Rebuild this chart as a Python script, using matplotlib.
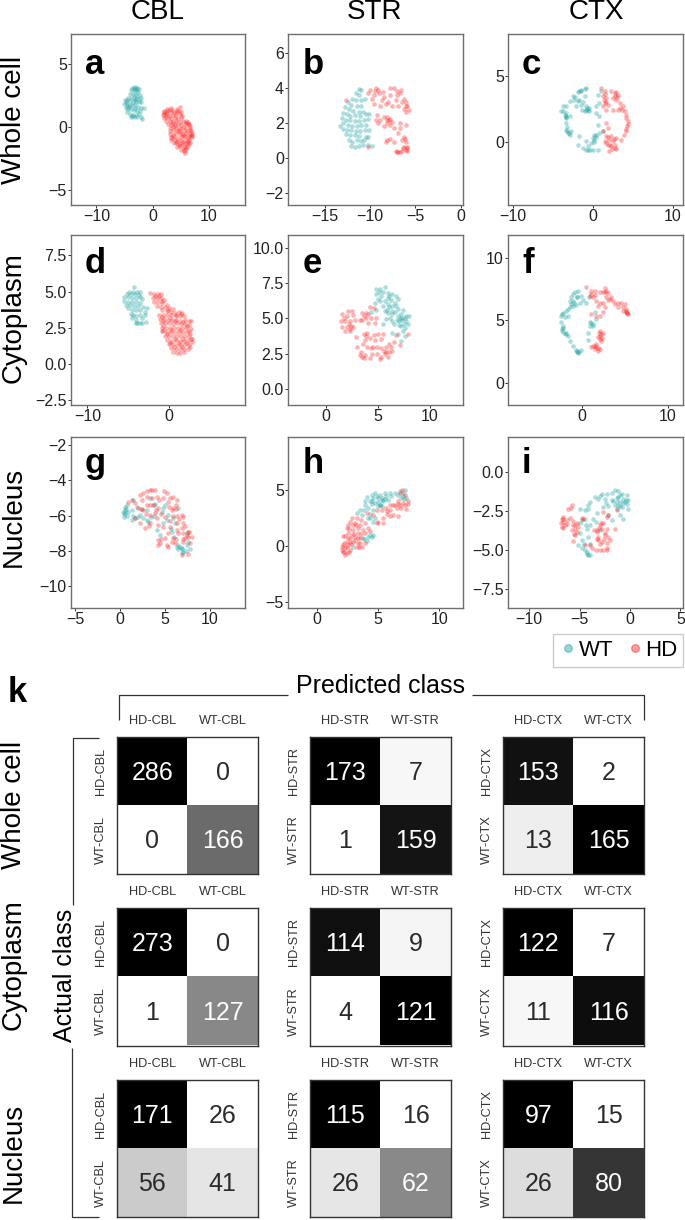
import matplotlib
matplotlib.use("Agg")
from matplotlib import pyplot as plt
from matplotlib.lines import Line2D
import numpy as np

W, H = 685, 1220

# UMAP-style scatter points, (x, y) per genotype
a_wt = [(-3.6,3.1),(-3.2,3.15),(-2.8,3.1),(-2.5,3.0),(-3.9,2.9),(-3.4,2.9),(-3.0,2.85),(-2.6,2.75),(-4.0,2.6),(-3.5,2.6),
        (-3.1,2.55),(-2.7,2.45),(-2.2,2.5),(-4.3,2.3),(-3.8,2.3),(-3.3,2.3),(-2.9,2.2),(-2.4,2.2),(-2.0,2.25),(-4.9,2.1),
        (-4.5,2.1),(-4.0,2.05),(-3.5,2.0),(-3.0,1.95),(-2.5,1.95),(-2.0,2.0),(-5.0,1.85),(-4.6,1.8),(-4.1,1.75),(-3.6,1.75),
        (-3.1,1.7),(-2.6,1.6),(-2.0,1.5),(-1.6,1.5),(-4.8,1.5),(-4.3,1.45),(-3.8,1.4),(-3.3,1.35),(-2.8,1.3),(-2.3,1.3),
        (-4.5,1.15),(-4.0,1.0),(-3.5,0.95),(-3.0,0.95),(-2.5,1.0),(-2.1,0.8),(-3.8,0.75),(-3.3,0.8),(-1.9,0.6),(-2.8,0.75),
        (-3.0,3.0),(-3.3,3.05),(-4.7,1.95),(-4.2,1.6),(-3.2,1.5),(-3.6,0.9),(-3.1,2.1),(-4.6,1.65)]
a_hd = [(2.5,1.45),(3.2,1.5),(4.4,1.45),(4.9,1.55),(2.0,1.2),(2.6,1.25),(3.2,1.15),(3.8,1.2),(4.4,1.25),(5.0,1.15),
        (1.9,0.95),(2.4,1.0),(3.0,0.9),(3.6,0.95),(4.2,0.9),(4.8,1.0),(5.3,0.9),(2.1,0.7),(2.7,0.75),(3.3,0.65),
        (3.9,0.7),(4.5,0.65),(5.1,0.75),(2.4,0.45),(3.0,0.5),(3.6,0.4),(4.2,0.45),(4.8,0.4),(5.4,0.5),(6.0,0.45),
        (2.7,0.2),(3.3,0.15),(3.9,0.25),(4.5,0.2),(5.1,0.15),(5.7,0.25),(6.3,0.2),(3.0,-0.05),(3.6,0.0),(4.2,-0.1),
        (4.8,-0.05),(5.4,0.0),(6.0,-0.1),(6.6,-0.05),(3.1,-0.3),(3.7,-0.25),(4.3,-0.35),(4.9,-0.3),(5.5,-0.25),(6.1,-0.35),
        (6.8,-0.3),(3.0,-0.55),(3.6,-0.6),(4.2,-0.5),(4.8,-0.55),(5.4,-0.6),(6.0,-0.5),(6.6,-0.55),(7.0,-0.6),(3.2,-0.8),
        (3.8,-0.75),(4.4,-0.85),(5.0,-0.8),(5.6,-0.75),(6.2,-0.85),(6.9,-0.8),(3.3,-1.05),(3.9,-1.0),(4.5,-1.1),(5.1,-1.05),
        (5.7,-1.0),(6.3,-1.1),(3.8,-1.3),(4.4,-1.25),(5.0,-1.35),(5.6,-1.3),(6.2,-1.25),(6.6,-1.3),(4.3,-1.55),(4.9,-1.5),
        (5.5,-1.6),(6.1,-1.55),(5.0,-1.8),(5.6,-1.85),(6.0,-1.75),(5.7,-2.05),
        (2.0,1.05),(2.3,0.8),(2.6,1.1),(2.1,1.3),(2.9,1.35),(3.5,1.35),(4.1,1.1),(4.7,1.3),(5.9,0.3),(6.2,0.4),
        (6.5,0.2),(6.6,0.05),(6.7,-0.2),(6.9,-0.45),(6.85,-0.7),(6.4,-0.7),(6.5,-1.0),(6.2,-1.4),(5.8,-1.6),(5.5,-1.9),
        (3.4,0.35),(4.0,0.05),(4.6,-0.2),(5.2,-0.45),(5.8,-0.7),(3.5,-0.9),(4.1,-1.2),(4.7,-1.45),(5.3,-1.15),(5.9,-1.25)]

b_wt = [(-11.3,3.97),(-11.0,3.9),(-11.6,3.7),(-11.2,3.6),(-12,3.4),(-11.6,3.3),(-11.0,3.3),(-10.6,3.4),(-12.5,3.2),(-12.1,3.05),
        (-11.5,3.0),(-11,2.95),(-12.8,2.9),(-12.4,2.8),(-11.9,2.7),(-11.3,2.65),(-10.8,2.65),(-13,2.6),(-12.6,2.5),(-12.2,2.4),
        (-11.7,2.45),(-11.1,2.4),(-10.5,2.5),(-10.1,2.5),(-13.1,2.3),(-12.7,2.2),(-12.2,2.15),(-11.7,2.1),(-11.2,2.1),(-10.7,2.2),
        (-10.3,2.25),(-13.3,1.85),(-13,2.0),(-12.5,1.9),(-12,1.85),(-11.5,1.85),(-11,1.9),(-10.5,1.9),(-13,1.65),(-12.6,1.6),
        (-12.1,1.6),(-11.6,1.55),(-11.1,1.55),(-10.6,1.6),(-10.1,1.6),(-12.7,1.35),(-12.2,1.3),(-11.7,1.3),(-11.2,1.25),(-10.5,1.2),
        (-10.2,1.2),(-12.4,1.0),(-12,0.9),(-11.5,1.0),(-11,0.95),(-10.7,1.0),(-12.1,0.7),(-11.7,0.6),(-11.2,0.7),(-10.8,0.75),
        (-10.3,0.75),(-9.8,0.7)]
b_hd = [(-10,3.9),(-9.4,4.0),(-9.1,3.9),(-10.2,3.7),(-9.6,3.6),(-9.8,3.4),(-7.8,4.0),(-7.4,4.0),(-6.6,3.9),(-6.7,3.7),
        (-8.5,3.5),(-8.7,3.3),(-7.8,3.6),(-7,3.6),(-6.3,3.4),(-6.1,3.2),(-5.9,3.0),(-5.7,2.75),(-6.1,2.65),(-8,3.2),
        (-8.3,3.1),(-7.6,3.0),(-6.9,3.0),(-6.3,2.8),(-8.9,3.0),(-9.6,3.1),(-9.4,2.2),(-9.3,2.45),(-8.5,2.35),(-7.8,2.25),
        (-8.2,2.0),(-7.8,1.9),(-9.1,2.0),(-8.5,1.8),(-7.4,1.7),(-6.7,2.0),(-6.1,1.9),(-6.7,1.7),(-8.9,2.15),(-8.2,2.2),
        (-7.6,2.05),(-6.9,1.4),(-6.3,1.2),(-8.1,1.0),(-8.3,0.9),(-7.4,0.9),(-7.8,1.1),(-6.5,1.0),(-6.1,0.9),(-5.9,0.65),
        (-6.3,0.65),(-6.1,0.45),(-7.2,0.38),(-6.9,0.32),(-6.5,0.38),(-5.9,0.42),(-7.05,0.35),(-6.7,0.36),(-10.2,0.65),(-12.7,3.3),
        (-9.0,3.7),(-7.2,3.3),(-6.5,3.2),(-6.0,2.95),(-8.1,2.35),(-7.9,2.15),(-6.4,0.55),(-6.2,1.1),(-5.95,0.55),(-8.6,3.75),
        (-7.0,3.85),(-9.5,3.85)]

c_wt = [(-0.83,4.09),(-1.46,3.96),(-1.88,3.76),(-2.5,3.46),(-2.9,3.08),(-3.33,2.7),(-3.75,2.32),(-3.96,2.32),(-3.54,2.07),(-3.33,1.82),
        (-2.9,1.94),(-3.33,1.44),(-3.33,0.93),(-3.1,0.68),(-2.9,0.56),(-2.7,0.81),(-2.3,3.2),(-1.67,3.2),(-1.04,3.46),(-0.83,2.7),
        (-0.63,2.45),(-0.42,2.58),(-0.92,2.32),(-1.46,2.83),(-2.08,2.75),(0.42,2.2),(0.83,1.94),(0.63,1.31),(-1.67,0.43),(-1.88,-0.2),
        (-1.25,-0.45),(-0.63,-0.63),(0.0,-0.63),(0.63,-0.63),(-0.63,-0.33),(-0.2,-0.08),(0.2,0.18),(0.42,0.56),(0.0,0.3),(0.83,0.68),
        (1.25,0.81),(0.63,3.59),(1.04,3.84),(0.42,2.7),(0.83,2.95),(-1.67,3.84),(-1.04,4.0),(-3.67,2.75),(-3.2,1.11),
        (-0.8,2.4),(-0.5,2.35),(-0.7,2.6),(-3.3,2.2),(-3.4,1.95),(-3.2,0.8),(-3.0,0.7),(-3.3,1.9),(-1.5,3.9),(-0.9,0.05),
        (0.1,0.0),(0.4,0.35),(0.2,0.5),(-2.2,3.4),(-1.9,3.1),(-1.2,3.0),(-1.4,2.4),(-0.3,-0.6),(-0.9,-0.6)]
c_hd = [(1.04,4.09),(1.46,3.84),(1.25,3.46),(1.67,3.33),(1.46,2.95),(1.88,2.83),(1.25,2.7),(1.67,2.45),(2.29,3.84),(2.71,3.71),
        (3.13,3.59),(2.5,3.33),(2.92,3.2),(3.33,2.95),(3.13,2.45),(3.75,2.7),(3.96,2.32),(4.17,2.07),(4.38,1.57),(4.29,1.19),
        (4.17,0.81),(3.83,0.56),(3.54,0.18),(1.67,1.44),(1.88,1.06),(1.25,0.81),(1.67,0.43),(2.08,0.18),(2.5,0.05),(2.92,0.3),
        (1.88,-0.2),(2.29,-0.33),(2.71,-0.45),(2.0,-0.71),(2.92,-0.53),(1.46,0.05),(2.29,0.43),(2.5,2.45),
        (1.5,3.6),(1.7,3.0),(2.8,3.5),(3.0,3.4),(2.9,3.8),(3.4,2.6),(3.6,2.4),(4.2,1.8),(4.35,1.4),(4.2,0.95),
        (2.2,-0.2),(2.4,-0.5),(2.8,-0.2),(2.6,0.2),(1.9,0.4),(1.7,-0.05),(1.4,3.2)]

d_wt = [(-4.3,5.3),(-4.9,5.0),(-4.4,5.0),(-3.9,5.0),(-3.5,5.0),(-5.2,4.85),(-4.7,4.8),(-4.2,4.8),(-3.7,4.75),(-5.5,4.6),
        (-5.0,4.6),(-4.5,4.55),(-4.0,4.55),(-3.5,4.6),(-3.3,4.45),(-5.5,4.35),(-5.0,4.3),(-4.5,4.25),(-4.1,4.25),(-3.6,4.2),
        (-5.3,4.1),(-4.8,4.05),(-4.3,4.0),(-3.8,4.0),(-3.2,3.9),(-2.7,3.85),(-5,3.85),(-4.5,3.7),(-4,3.7),(-3.5,3.7),
        (-3,3.6),(-4.7,3.45),(-4.4,3.35),(-4,3.3),(-3.5,3.35),(-2.9,3.4),(-4.5,3.2),(-4,3.05),(-3.3,3.2),(-3.9,2.85),
        (-3.6,2.85),(-3.3,2.85),(-2.8,2.9),(-4.1,2.8)]
d_hd = [(-2.3,4.9),(-1.9,4.8),(-1.4,4.8),(-1.0,4.8),(-2.0,4.55),(-1.5,4.55),(-1.0,4.55),(-0.6,4.4),(-1.8,4.3),(-1.3,4.25),
        (-0.8,4.2),(-0.3,4.1),(-1.5,4.0),(-1,3.95),(-0.5,3.9),(0,3.85),(0.5,3.8),(-0.8,3.7),(-0.3,3.65),(0.2,3.6),
        (0.7,3.55),(1.2,3.6),(1.6,3.55),(-1.2,3.4),(-0.7,3.4),(-0.2,3.35),(0.3,3.35),(0.8,3.3),(1.3,3.3),(1.8,3.3),
        (-1.1,3.1),(-0.6,3.1),(-0.1,3.05),(0.4,3.05),(0.9,3.05),(1.4,3.0),(1.9,3.05),(2.4,3.0),(2.7,3.0),(-1.0,2.8),
        (-0.5,2.8),(0,2.8),(0.5,2.75),(1,2.8),(1.5,2.75),(2,2.75),(2.5,2.7),(-0.9,2.5),(-0.4,2.5),(0.1,2.5),
        (0.6,2.5),(1.1,2.45),(1.6,2.5),(2.1,2.45),(2.7,2.4),(-0.8,2.25),(-0.3,2.2),(0.2,2.2),(0.7,2.2),(1.2,2.2),
        (1.7,2.2),(2.2,2.2),(2.6,2.1),(-0.5,1.95),(0,1.95),(0.5,1.9),(1,1.9),(1.5,1.9),(2,1.9),(2.5,1.9),
        (2.8,1.7),(-0.2,1.65),(0.3,1.6),(0.8,1.65),(1.3,1.6),(1.8,1.6),(2.3,1.65),(2.8,1.5),(0,1.35),(0.5,1.35),
        (1,1.3),(1.5,1.3),(2,1.35),(2.5,1.3),(0.3,1.1),(0.8,1.05),(1.3,1.05),(1.8,1.0),(2.3,1.05),(0.5,0.85),
        (1,0.75),(1.3,0.75),(1.8,0.85),(-0.7,2.3),
        (-1.7,4.7),(-1.2,4.7),(-0.9,4.35),(-0.1,3.75),(0.9,3.4),(1.5,3.45),(0.1,3.2),(-0.9,3.25),(0.7,2.95),(1.7,2.9),
        (2.2,2.6),(-0.7,2.65),(0.3,2.35),(1.4,2.35),(2.45,2.3),(-0.3,2.05),(0.75,1.75),(1.75,1.75),(2.65,1.75),(0.15,1.45),
        (1.2,1.45),(2.25,1.45),(0.55,1.2),(1.55,1.15),(2.6,1.15),(-0.75,2.95)]

e_wt = [(4.84,7.05),(5.64,7.2),(5.2,7.05),(5.96,6.8),(6.4,6.75),(6.75,6.6),(4.84,6.7),(5.3,6.6),(4.7,6.1),(5.0,6.35),
        (5.64,6.2),(6.3,6.27),(6.9,6.35),(5.5,5.9),(6.1,5.8),(6.4,5.87),(6.9,5.64),(7.4,5.57),(4.84,5.57),(4.36,5.47),
        (5.96,5.4),(6.4,5.28),(6.9,5.17),(7.55,5.05),(8.0,5.17),(5.8,4.93),(6.4,4.8),(7.07,4.8),(7.7,4.8),(5.5,4.62),
        (6.56,4.58),(7.2,4.46),(7.87,4.58),(7.4,4.1),(6.4,3.98),(6.9,3.87),(7.55,3.75),(7.2,3.4),(6.0,6.45),(5.1,6.9),
        (6.7,5.9),(7.2,5.3),(7.6,4.3),(6.2,5.05),(7.0,4.5),(5.7,5.5),
        (5.5,6.9),(6.1,6.55),(5.2,6.2),(6.0,6.0),(6.6,6.1),(5.9,5.6),(6.6,5.45),(7.3,5.0),(7.5,4.6),(7.1,5.05),
        (6.8,4.9),(7.3,4.85),(7.7,5.2),(6.4,5.5)]
e_hd = [(2.1,5.5),(2.5,5.5),(1.6,5.3),(2.0,5.2),(2.6,5.25),(1.5,4.8),(1.9,4.8),(2.3,4.8),(2.8,4.85),(1.6,4.4),
        (2.0,4.4),(2.3,4.25),(2.6,4.4),(1.9,4.1),(2.35,4.1),(2.9,3.65),(3.5,5.4),(3.9,5.4),(3.5,4.9),(3.9,5.0),
        (4.3,5.05),(4.8,5.0),(4.1,4.7),(4.7,4.65),(3.3,4.85),(4.2,5.8),(4.6,5.75),(3.7,3.9),(3.9,3.75),(3.8,3.45),
        (4.2,3.6),(4.6,3.85),(5.0,3.9),(5.5,3.9),(3.6,3.2),(4.0,3.0),(4.5,3.0),(4.9,3.0),(5.3,2.9),(5.8,3.0),
        (6.1,3.2),(6.5,3.3),(3.0,2.95),(3.4,2.6),(3.8,2.4),(4.2,2.2),(3.5,2.3),(4.9,2.5),(5.3,2.3),(5.7,2.5),
        (6.1,2.6),(6.4,2.7),(5.2,2.1),(6.0,2.3),(6.7,3.8),(7.1,3.1),(7.9,3.9),
        (2.2,4.6),(2.4,4.45),(1.75,5.0),(3.7,5.2),(4.1,5.3),(5.3,3.55),(4.3,2.9),(3.3,2.4),(3.7,2.2),(5.6,2.7),
        (5.8,2.65),(4.7,3.45),(6.3,3.0),(4.4,2.5),(4.0,3.95)]

f_wt = [(-0.47,7.37),(-0.85,7.24),(-1.24,6.84),(-1.43,6.57),(-1.05,6.57),(-0.58,6.84),(-0.08,6.97),(-0.27,6.38),(-0.66,6.22),(-1.05,6.17),
        (-1.43,6.03),(-1.82,5.76),(-2.2,5.58),(-2.4,5.36),(-2.0,5.23),(-1.63,5.36),(-2.4,4.83),(-2.2,4.56),(-2.29,4.16),(-2.13,4.02),
        (-1.82,3.89),(-1.63,3.75),(-1.43,3.35),(-1.05,2.9),(-0.74,2.63),(-0.47,2.41),(-0.08,2.63),(-0.58,2.47),(0.89,4.83),(1.28,4.69),
        (1.67,5.09),(1.47,5.68),(0.7,4.02),(0.7,3.43),(0.81,6.84),(0.5,6.43),(1.28,4.56),
        (-1.0,7.1),(-0.6,6.9),(-1.3,6.3),(-0.9,6.4),(-1.6,5.9),(-2.3,5.5),(-2.2,4.4),(-2.3,4.3),(-1.9,3.95),(-0.6,2.5),
        (-0.35,2.45),(0.9,4.55),(1.0,4.75),(0.1,6.6)]
f_hd = [(0.5,7.64),(1.09,7.37),(1.47,7.37),(2.05,7.24),(2.64,7.59),(2.83,7.37),(2.44,7.24),(0.89,6.97),(1.28,6.84),(1.67,6.57),
        (2.05,6.43),(2.83,6.84),(3.22,6.7),(3.6,6.57),(3.8,6.3),(4.19,6.38),(4.57,6.43),(4.96,6.3),(5.16,5.9),(5.08,5.68),
        (5.23,5.58),(4.77,5.76),(5.35,5.5),(2.64,6.03),(2.44,5.68),(1.86,6.17),(2.05,5.36),(1.09,5.5),(1.67,5.36),(2.05,4.16),
        (2.25,3.89),(2.44,4.02),(2.05,3.49),(2.25,3.35),(1.86,3.62),(1.28,2.95),(1.67,2.82),(2.05,2.68),(1.47,2.68),(1.09,2.82),
        (1.67,3.08),(1.86,2.55),(2.44,6.43),(1.09,7.1),(4.19,6.03),
        (1.5,7.0),(2.7,7.3),(3.0,7.2),(3.4,6.9),(3.0,6.6),(4.8,6.1),(5.1,5.75),(5.3,5.55),(2.1,3.75),(2.3,3.6),
        (1.5,2.95),(1.9,2.75),(2.0,4.0)]

g_wt = [(0.56,-5.49),(0.74,-5.4),(0.37,-5.77),(0.56,-5.87),(0.93,-5.77),(0.74,-6.02),(0.44,-6.09),(1.3,-5.68),(1.48,-6.02),(1.67,-6.15),
        (1.3,-6.25),(2.2,-5.96),(1.85,-5.53),(2.96,-6.25),(3.15,-6.34),(2.6,-6.15),(3.33,-5.02),(3.9,-5.34),(4.8,-5.58),(4.63,-5.77),
        (5.37,-5.96),(5.2,-6.25),(5.9,-6.15),(6.48,-5.58),(5.74,-6.9),(4.8,-6.43),(4.44,-7.1),(4.07,-6.81),(7.4,-7.0),(7.6,-7.47),
        (6.67,-7.76),(6.48,-7.66),(6.85,-7.85),(6.3,-7.8),(7.04,-8.04),(7.8,-7.9),(6.85,-8.1),(7.4,-7.66),(1.48,-5.11),(2.96,-5.68),
        (6.1,-6.43),
        (0.6,-5.7),(0.7,-5.6),(0.5,-5.9),(2.4,-5.6),(3.4,-6.1),(2.0,-6.1),(6.5,-7.9),(6.9,-7.9),(7.3,-8.0),(3.8,-6.0),
        (5.0,-5.4),(6.0,-7.2),(5.7,-6.75),(3.8,-5.4)]
g_hd = [(1.3,-5.11),(2.2,-4.83),(2.6,-4.73),(3.33,-4.54),(3.9,-4.54),(4.9,-4.58),(5.2,-4.73),(5.85,-4.92),(6.3,-5.11),(2.96,-4.92),
        (4.07,-4.92),(4.8,-5.02),(5.37,-5.2),(5.9,-5.58),(6.2,-5.4),(6.85,-5.96),(7.04,-6.09),(2.96,-5.4),(3.7,-5.4),(4.26,-5.58),
        (2.04,-5.58),(2.6,-5.68),(0.93,-5.2),(1.67,-6.15),(2.2,-6.4),(2.8,-6.72),(3.33,-6.43),(4.07,-6.15),(5.0,-6.06),(5.74,-5.68),
        (6.3,-6.02),(4.8,-6.62),(5.56,-6.62),(6.3,-6.43),(7.04,-6.43),(6.85,-6.72),(6.48,-7.0),(5.9,-7.29),(5.74,-7.47),(5.0,-7.29),
        (4.26,-7.38),(4.44,-7.57),(5.2,-7.66),(4.26,-7.66),(5.37,-7.8),(7.04,-7.0),(8.0,-7.19),(7.6,-6.9),(7.2,-7.29),(7.8,-7.57),
        (6.85,-8.23),(7.6,-8.17),(7.04,-7.47),(6.1,-7.57),(6.3,-6.81),(3.9,-5.87),(3.33,-5.96),
        (1.7,-5.3),(2.4,-5.1),(3.0,-4.6),(3.6,-4.55),(3.6,-5.0),(4.3,-5.1),(5.6,-5.0),(6.2,-5.6),(2.9,-5.9),(3.2,-6.6),
        (4.2,-6.5),(4.6,-5.9),(5.4,-5.5),(5.9,-6.0),(6.6,-6.2),(7.2,-6.6),(7.4,-7.1),(7.7,-6.95),(7.6,-7.2),(5.3,-7.0),
        (4.6,-7.3),(6.2,-7.3),(5.6,-6.3),(2.3,-5.6),(3.3,-5.4),(7.0,-7.3),(4.0,-5.7)]

h_wt = [(4.04,4.32),(3.9,3.96),(4.45,4.55),(4.73,4.7),(5.14,4.55),(5.55,4.7),(5.96,4.7),(6.37,4.7),(7.19,4.94),(7.27,4.26),
        (7.05,4.4),(4.6,4.26),(5.0,4.26),(5.27,4.1),(5.55,4.17),(4.32,3.96),(4.73,3.81),(5.14,3.66),(5.4,3.96),(3.9,3.66),
        (3.5,3.21),(3.22,2.92),(3.63,2.77),(4.18,3.36),(4.6,3.21),(5.0,3.51),(5.27,3.51),(5.82,4.1),(6.64,4.55),(6.86,4.26),
        (4.18,2.47),(4.6,2.17),(4.32,2.47),(4.73,2.47),(4.18,0.83),(4.45,0.77),(3.77,0.68),(4.04,0.48),(4.6,0.98),(2.95,-0.12),
        (5.14,3.66),
        (4.9,4.4),(5.3,4.25),(4.5,4.0),(5.0,3.9),(5.6,4.4),(7.0,4.7),(7.1,4.2),(6.8,4.9),(3.8,3.2),(4.3,2.8),
        (4.5,3.7),(3.8,0.6),(4.3,1.0),(6.0,4.4)]
h_hd = [(6.91,5.0),(6.78,4.7),(7.19,4.55),(7.46,3.75),(7.19,3.66),(6.78,3.66),(6.37,3.66),(6.5,3.36),(5.96,3.21),(5.68,3.07),
        (6.23,2.77),(6.64,2.68),(5.96,2.62),(5.41,2.47),(5.36,2.02),(5.0,2.17),(4.6,2.77),(4.04,2.92),(7.46,3.96),(6.64,3.96),
        (5.96,3.66),(4.86,3.21),(3.22,2.47),(2.81,2.47),(2.68,2.17),(3.09,2.02),(2.54,1.88),(2.4,1.58),(2.95,1.43),(3.5,1.88),
        (3.9,2.02),(4.18,1.58),(3.77,1.43),(3.36,1.13),(2.81,0.98),(2.27,0.89),(2.54,1.13),(3.09,0.83),(3.5,0.68),(3.9,1.13),
        (2.0,-0.06),(2.13,0.09),(2.27,-0.2),(2.54,0.09),(2.68,0.39),(2.95,0.39),(2.4,0.39),(2.13,-0.5),(2.4,-0.65),(2.27,-0.8),
        (2.68,-0.36),(3.63,-0.06),(3.36,0.24),(3.9,0.24),(3.22,-0.06),(2.0,-0.36),(2.1,0.85),
        (6.2,3.6),(6.6,3.7),(7.0,3.8),(5.7,2.8),(5.3,3.2),(4.9,2.0),(3.6,2.3),(3.2,1.9),(2.9,1.85),(2.6,1.5),
        (3.3,1.6),(3.6,1.1),(3.0,1.1),(2.5,0.75),(2.8,0.2),(3.1,0.5),(3.3,0.7),(2.2,0.3),(2.4,-0.1),(2.6,-0.5),
        (2.2,-0.55),(3.5,0.3),(3.4,-0.1),(2.7,0.7),(4.3,1.3),(5.6,3.4),(6.9,3.4),(7.3,3.3)]

i_wt = [(-1.49,-1.13),(-1.16,-1.22),(-0.83,-1.39),(-1.82,-1.35),(-2.32,-1.39),(-2.81,-1.39),(-3.48,-1.6),(-3.15,-1.71),(-3.97,-1.92),(-4.14,-2.14),
        (-4.47,-2.46),(-4.97,-2.41),(-4.8,-3.1),(-4.97,-3.27),(-4.3,-3.63),(-3.97,-3.42),(-3.64,-2.99),(-3.31,-2.63),(-2.65,-2.24),(-2.15,-2.2),
        (-1.82,-1.82),(-1.66,-1.86),(-1.32,-1.92),(-1.16,-2.2),(-0.83,-2.24),(-0.66,-1.71),(-0.33,-1.5),(-0.17,-1.77),(-0.5,-1.92),(-0.33,-2.03),
        (-0.17,-2.35),(-0.66,-2.99),(-0.99,-2.78),(-1.82,-3.06),(-2.15,-2.78),(-4.97,-3.95),(-4.8,-4.34),(-4.14,-4.17),(-5.13,-4.7),(-4.8,-4.91),
        (-4.3,-5.13),(-4.14,-5.34),(-4.47,-5.02),(-3.97,-5.34),(-2.98,-3.74),(-1.16,-1.6),(-0.99,-1.92),(-2.48,-1.71),
        (-1.0,-1.5),(-1.3,-1.7),(-0.7,-2.0),(-1.0,-2.2),(-1.5,-2.1),(-0.4,-1.8),(-2.4,-2.0),(-3.0,-1.55),(-4.5,-3.0),(-4.4,-3.4),
        (-3.4,-3.2),(-4.0,-4.6),(-4.55,-4.6),(-4.3,-5.25),(-1.3,-2.35),(-4.2,-2.4)]
i_hd = [(-5.8,-2.14),(-6.13,-2.41),(-6.62,-2.88),(-6.79,-2.99),(-6.69,-3.2),(-6.29,-3.06),(-5.96,-2.93),(-6.79,-3.53),(-6.62,-3.59),(-6.29,-3.31),
        (-5.63,-3.42),(-5.46,-3.63),(-5.3,-3.85),(-5.8,-3.74),(-5.46,-4.06),(-5.63,-4.44),(-4.64,-2.99),(-4.8,-2.93),(-2.98,-3.42),(-2.65,-3.27),
        (-2.81,-3.63),(-3.31,-3.85),(-3.15,-4.17),(-2.32,-3.63),(-1.49,-3.63),(-2.65,-2.56),(-2.32,-2.88),(-1.32,-2.46),(-2.48,-4.06),(-1.99,-4.38),
        (-2.32,-4.59),(-2.81,-4.49),(-3.15,-4.38),(-3.81,-4.91),(-4.47,-4.7),(-2.98,-4.98),(-2.65,-5.02),(-2.32,-5.02),(-2.15,-2.78),(-3.31,-3.74),
        (-6.6,-3.05),(-6.4,-3.4),(-6.8,-3.3),(-5.9,-2.3),(-5.7,-3.15),(-5.5,-3.4),(-5.3,-3.3),(-5.2,-3.55),(-5.6,-4.0),(-2.9,-3.3),
        (-3.1,-3.6),(-2.5,-3.9),(-2.2,-4.2),(-3.3,-4.3),(-3.0,-4.6),(-2.3,-4.9),(-4.0,-4.7),(-3.4,-5.0),(-2.6,-4.3),(-3.6,-3.7)]

scatter_data = [a_wt, a_hd, b_wt, b_hd, c_wt, c_hd, d_wt, d_hd, e_wt, e_hd, f_wt, f_hd, g_wt, g_hd, h_wt, h_hd, i_wt, i_hd]

panel_letters = ["a", "b", "c", "d", "e", "f", "g", "h", "i"]

# axis limits and ticks per panel
xlims = [(-14.5, 16.4), (-19.1, 0.2), (-10.6, 11.2),
         (-12.0, 9.3), (-3.6, 13.1), (-8.6, 11.7),
         (-5.44, 13.9), (-2.4, 11.9), (-12.1, 5.2)]
ylims = [(-6.16, 7.34), (-2.69, 7.09), (-4.77, 8.18),
         (-2.83, 8.9), (-1.13, 10.9), (-1.8, 11.85),
         (-11.24, -1.53), (-5.5, 9.67), (-8.73, 2.24)]
xticks = [[-10, 0, 10], [-15, -10, -5, 0], [-10, 0, 10],
          [-10, 0], [0, 5, 10], [0, 10],
          [-5, 0, 5, 10], [0, 5, 10], [-10, -5, 0, 5]]
yticks = [[-5, 0, 5], [-2, 0, 2, 4, 6], [0, 5],
          [-2.5, 0.0, 2.5, 5.0, 7.5], [0.0, 2.5, 5.0, 7.5, 10.0], [0, 5, 10],
          [-10, -8, -6, -4, -2], [-5, 0, 5], [-7.5, -5.0, -2.5, 0.0]]
yfmt = ["%d", "%d", "%d", "%.1f", "%.1f", "%d", "%d", "%d", "%.1f"]

column_titles = ["CBL", "STR", "CTX"]
row_titles = ["Whole cell", "Cytoplasm", "Nucleus"]
tissues = ["CBL", "STR", "CTX"]

# confusion matrices: rows whole cell / cytoplasm / nucleus, columns CBL / STR / CTX
conf_wc_cbl = [[286, 0], [0, 166]]
conf_wc_str = [[173, 7], [1, 159]]
conf_wc_ctx = [[153, 2], [13, 165]]
conf_cy_cbl = [[273, 0], [1, 127]]
conf_cy_str = [[114, 9], [4, 121]]
conf_cy_ctx = [[122, 7], [11, 116]]
conf_nu_cbl = [[171, 26], [56, 41]]
conf_nu_str = [[115, 16], [26, 62]]
conf_nu_ctx = [[97, 15], [26, 80]]
confusions = [conf_wc_cbl, conf_wc_str, conf_wc_ctx,
              conf_cy_cbl, conf_cy_str, conf_cy_ctx,
              conf_nu_cbl, conf_nu_str, conf_nu_ctx]

plt.rcParams["font.family"] = ["Liberation Sans", "DejaVu Sans"]

WT_COL = "#1FA3A3"
HD_COL = "#FF2B2B"

fig = plt.figure(figsize=(W / 100, H / 100), dpi=100, facecolor="white")


def box(x0, y0, x1, y1):
    # pixel box, y from the top
    return fig.add_axes([x0 / W, 1 - y1 / H, (x1 - x0) / W, (y1 - y0) / H])


def label(px, py, s, **kw):
    return fig.text(px / W, 1 - py / H, s, **kw)


def stroke(xs, ys):
    fig.add_artist(Line2D([x / W for x in xs], [1 - y / H for y in ys],
                          color="#333333", lw=0.9, solid_capstyle="butt"))


# scatter panels
col_x = [(71, 245), (288, 462.5), (508, 682.5)]
row_y = [(34, 205), (235, 405), (437, 608)]
letter_x = [85, 303, 522]
letter_y = [74, 273, 473]

for k in range(9):
    r, c = k // 3, k % 3
    ax = box(col_x[c][0], row_y[r][0], col_x[c][1], row_y[r][1])
    wt = np.array(scatter_data[2 * k])
    hd = np.array(scatter_data[2 * k + 1])
    ax.scatter(wt[:, 0], wt[:, 1], s=11, color=WT_COL, alpha=0.36, linewidths=0)
    ax.scatter(hd[:, 0], hd[:, 1], s=11, color=HD_COL, alpha=0.36, linewidths=0)
    ax.set_xlim(xlims[k])
    ax.set_ylim(ylims[k])
    ax.set_xticks(xticks[k])
    ax.set_yticks(yticks[k])
    ax.set_yticklabels([(yfmt[k] % v).replace("-", "\u2212") for v in yticks[k]])
    ax.tick_params(labelsize=11.5, length=2, width=0.7, color="#333333", labelcolor="#222222", pad=1)
    for sp in ax.spines.values():
        sp.set_color("#6E6E6E")
        sp.set_linewidth(1.0)
    label(letter_x[c], letter_y[r], panel_letters[k], fontsize=25, fontweight="bold", va="baseline", ha="left", color="black")

for name, px in zip(column_titles, [158, 375, 596]):
    label(px, 12, name, fontsize=20, ha="center", va="center")
for name, py in zip(row_titles, [120, 318, 517]):
    label(14, py, name, fontsize=20, rotation=90, ha="center", va="center")

leg = fig.legend(handles=[Line2D([], [], ls="", marker="o", ms=5.5, mfc=WT_COL, mec=WT_COL, alpha=0.45, label="WT"),
                          Line2D([], [], ls="", marker="o", ms=5.5, mfc=HD_COL, mec=HD_COL, alpha=0.45, label="HD")],
                 ncol=2, fontsize=16, loc="center", bbox_to_anchor=(618 / W, 1 - 650.5 / H),
                 frameon=True, fancybox=False, edgecolor="#CCCCCC", framealpha=1,
                 handletextpad=0.0, columnspacing=0.55, borderpad=0.25, handlelength=0.9)
leg.get_frame().set_linewidth(1.0)

# confusion matrices
conf_x = [(117, 258), (310, 451), (503, 644)]
conf_y = [(737, 874), (908, 1045.5), (1080, 1217)]

for k in range(9):
    r, c = k // 3, k % 3
    ax = box(conf_x[c][0], conf_y[r][0], conf_x[c][1], conf_y[r][1])
    m = np.array(confusions[k])
    ax.imshow(m, cmap="gray_r", aspect="auto", interpolation="nearest")
    lo, hi = m.min(), m.max()
    for i in range(2):
        for j in range(2):
            col = "white" if (m[i, j] - lo) / (hi - lo) > 0.4 else "#2B2B2B"
            ax.text(j, i + 0.02, str(m[i, j]), color=col, fontsize=18, ha="center", va="center")
    names = ["HD-" + tissues[c], "WT-" + tissues[c]]
    ax.xaxis.tick_top()
    ax.set_xticks([0, 1], names)
    ax.set_yticks([0, 1], names, rotation=90, va="center")
    ax.tick_params(length=0, labelsize=9.2, labelcolor="#333333", pad=7)
    for sp in ax.spines.values():
        sp.set_color("#333333")
        sp.set_linewidth(1.0)

for name, py in zip(row_titles, [805, 965, 1153]):
    label(14, py, name, fontsize=20, rotation=90, ha="center", va="center")

label(8, 702, "k", fontsize=25, fontweight="bold", va="baseline", ha="left")
label(381, 686, "Predicted class", fontsize=18, ha="center", va="center")
label(65, 975, "Actual class", fontsize=18, rotation=90, ha="center", va="center")

stroke([118.5, 118.5, 288], [720, 694.5, 694.5])
stroke([472, 643.5, 643.5], [694.5, 694.5, 720])
stroke([99, 73, 73], [738, 738, 905])
stroke([72, 72, 99], [1048, 1217, 1217])

fig.savefig("out.png", dpi=100, facecolor="white")
